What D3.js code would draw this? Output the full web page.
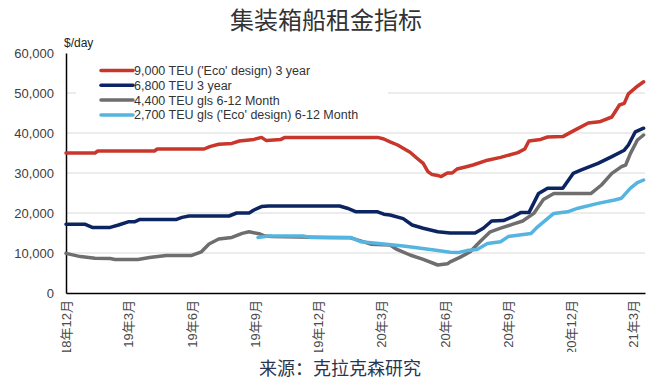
<!DOCTYPE html>
<html><head><meta charset="utf-8">
<script src="https://cdn.jsdelivr.net/npm/d3@7/dist/d3.min.js"></script>
<style>body{margin:0;background:#fff}svg{display:block}</style>
</head><body>
<script>
const title = "集装箱船租金指标";
const source = "来源：克拉克森研究";
const yLabel = "$/day";
const yTicks = [0, 10000, 20000, 30000, 40000, 50000, 60000];
const xTickDates = ["2018-12-01","2019-03-01","2019-06-01","2019-09-01","2019-12-01","2020-03-01","2020-06-01","2020-09-01","2020-12-01","2021-03-01"];
const xTickLabels = ["18年12月","19年3月","19年6月","19年9月","19年12月","20年3月","20年6月","20年9月","20年12月","21年3月"];
const seriesNames = ["9,000 TEU ('Eco' design) 3 year","6,800 TEU 3 year","4,400 TEU gls 6-12 Month","2,700 TEU gls ('Eco' design) 6-12 Month"];

const redDates = ["2018-12-01","2019-01-12","2019-01-16","2019-04-08","2019-04-12","2019-06-19","2019-06-27","2019-07-10","2019-07-29","2019-08-09","2019-08-30","2019-09-10","2019-09-17","2019-10-08","2019-10-14","2020-02-25","2020-03-05","2020-03-14","2020-03-25","2020-04-02","2020-04-12","2020-04-22","2020-05-01","2020-05-08","2020-05-14","2020-05-22","2020-05-27","2020-06-05","2020-06-12","2020-06-19","2020-07-01","2020-07-12","2020-08-02","2020-08-21","2020-09-15","2020-09-25","2020-10-01","2020-10-18","2020-10-28","2020-11-19","2020-12-05","2020-12-26","2021-01-11","2021-01-29","2021-02-09","2021-02-16","2021-02-22","2021-03-07","2021-03-16"];
const redValues = [35000,35000,35500,35500,36000,36000,36600,37200,37400,38000,38400,38900,38100,38400,38900,38900,38500,37800,37000,36200,35200,33700,32400,30300,29600,29400,29100,30000,30000,31000,31500,32000,33200,33900,35100,36000,38000,38400,39000,39100,40600,42500,42800,44000,47000,47400,49800,51700,52800];

const navyDates = ["2018-12-01","2018-12-28","2019-01-08","2019-02-03","2019-02-15","2019-03-01","2019-03-10","2019-03-18","2019-05-10","2019-05-18","2019-05-28","2019-07-25","2019-08-05","2019-08-23","2019-08-30","2019-09-10","2019-09-20","2020-01-01","2020-01-12","2020-01-25","2020-02-25","2020-03-05","2020-03-14","2020-04-02","2020-04-15","2020-05-01","2020-05-22","2020-06-09","2020-07-15","2020-07-27","2020-08-08","2020-08-25","2020-09-08","2020-09-19","2020-10-01","2020-10-15","2020-10-28","2020-11-19","2020-12-04","2020-12-15","2021-01-09","2021-01-29","2021-02-16","2021-02-22","2021-03-04","2021-03-16"];
const navyValues = [17200,17200,16400,16400,17000,17800,17800,18400,18400,18900,19250,19250,20000,20000,20750,21600,21750,21750,21200,20300,20300,19700,19500,18600,17000,16200,15300,15000,15000,16200,18000,18100,19100,20100,20100,24900,26200,26200,29900,30700,32400,34100,35700,37000,40300,41200];

const grayDates = ["2018-12-01","2018-12-22","2019-01-12","2019-02-03","2019-02-10","2019-03-15","2019-04-01","2019-04-25","2019-06-01","2019-06-15","2019-06-26","2019-07-10","2019-07-29","2019-08-13","2019-08-23","2019-09-08","2019-09-15","2019-09-25","2019-12-15","2020-01-17","2020-02-05","2020-02-15","2020-03-14","2020-03-24","2020-04-12","2020-05-01","2020-05-22","2020-06-05","2020-06-09","2020-06-23","2020-07-08","2020-07-22","2020-08-06","2020-08-21","2020-09-08","2020-09-22","2020-10-08","2020-10-22","2020-11-06","2020-12-30","2021-01-14","2021-01-29","2021-02-12","2021-02-18","2021-02-25","2021-03-07","2021-03-16"];
const grayValues = [9900,9100,8700,8600,8400,8400,8900,9400,9400,10300,12250,13500,13900,14900,15300,14750,14250,14100,13900,13800,12800,12200,12000,10900,9500,8400,7000,7300,7800,8900,10300,12800,15300,16200,17200,18000,19900,23400,24900,24900,27000,29900,31600,32000,34900,38250,39500];

const lightDates = ["2019-09-05","2019-09-20","2019-11-09","2019-11-20","2020-01-17","2020-02-01","2020-03-01","2020-04-02","2020-04-22","2020-05-22","2020-06-09","2020-06-20","2020-07-03","2020-07-18","2020-08-02","2020-08-21","2020-09-01","2020-10-04","2020-10-14","2020-11-06","2020-11-26","2020-12-11","2021-01-09","2021-02-02","2021-02-12","2021-02-25","2021-03-07","2021-03-16"];
const lightValues = [13900,14250,14250,13900,13900,12800,12300,11750,11300,10600,10200,10100,10600,10900,12400,12800,14100,14900,16600,19900,20300,21200,22400,23250,23700,26200,27600,28250];

const colors = ["#c9372c","#0c2461","#6e6e6e","#55b4e0"];

const W = 670, H = 380;
const m = {left: 66, right: 25, top: 53, bottom: 87};
const parse = d3.utcParse("%Y-%m-%d");
const svg = d3.select("body").append("svg").attr("width", W).attr("height", H);

const x = d3.scaleUtc().domain([parse("2018-12-01"), parse("2021-03-18")]).range([m.left, W - m.right]);
const y = d3.scaleLinear().domain([0, 60000]).range([H - m.bottom, m.top]);

// title
svg.append("text").attr("x", 326).attr("y", 29).attr("text-anchor", "middle")
  .attr("font-family", "'Noto Sans CJK SC', sans-serif").attr("font-size", 24).attr("fill", "#333").text(title);

// gridlines
svg.append("g").selectAll("line").data(yTicks.filter(d => d > 0 && d < 60000)).join("line")
  .attr("x1", m.left).attr("x2", W - m.right).attr("y1", d => y(d)).attr("y2", d => y(d))
  .attr("stroke", "#d9d9d9").attr("stroke-width", 1);

// y axis
const yAxis = svg.append("g").attr("transform", `translate(${m.left},0)`)
  .call(d3.axisLeft(y).tickValues(yTicks).tickFormat(d3.format(",")).tickSize(0).tickPadding(12));
yAxis.select(".domain").attr("stroke", "#000").attr("stroke-width", 1.5);
yAxis.selectAll("text").attr("font-family", "'Liberation Sans', Arial, sans-serif").attr("font-size", 13).attr("fill", "#404040");

svg.append("text").attr("x", 64).attr("y", 47).attr("font-family", "'Liberation Sans', Arial, sans-serif")
  .attr("font-size", 12).attr("fill", "#222").text(yLabel);

// x axis
const xAxis = svg.append("g").attr("transform", `translate(0,${H - m.bottom})`)
  .call(d3.axisBottom(x).tickValues(xTickDates.map(parse)).tickFormat((d, i) => xTickLabels[i]).tickSize(0));
xAxis.select(".domain").attr("stroke", "#000").attr("stroke-width", 1.5);
svg.append("clipPath").attr("id", "xclip").append("rect").attr("x", 0).attr("y", -5).attr("width", W).attr("height", 352 - (H - m.bottom) + 5);
xAxis.attr("clip-path", "url(#xclip)");
xAxis.selectAll("text")
  .attr("font-family", "'Liberation Sans', 'Noto Sans CJK SC', sans-serif").attr("font-size", 13).attr("fill", "#4a4a4a")
  .attr("text-anchor", "end").attr("dy", "0.35em").attr("x", -7).attr("y", 0)
  .attr("transform", "rotate(-90)");

// legend background
svg.append("rect").attr("x", 76).attr("y", 60).attr("width", 312).attr("height", 62).attr("fill", "#fff");

// lines
const line = d3.line().x(d => x(d[0])).y(d => y(d[1])).curve(d3.curveLinear);
const all = [[redDates, redValues],[navyDates, navyValues],[grayDates, grayValues],[lightDates, lightValues]];
const drawOrder = [0, 1, 2, 3];
drawOrder.forEach(i => {
  const [ds, vs] = all[i];
  const pts = ds.map((d, j) => [parse(d), vs[j]]);
  svg.append("path").datum(pts).attr("d", line).attr("fill", "none")
    .attr("stroke", colors[i]).attr("stroke-width", 3.5).attr("stroke-linejoin", "round").attr("stroke-linecap", "round");
});

// legend
const lg = svg.append("g");
seriesNames.forEach((n, i) => {
  const yy = 70.5 + i * 14.8;
  lg.append("line").attr("x1", 101).attr("x2", 133).attr("y1", yy).attr("y2", yy)
    .attr("stroke", colors[i]).attr("stroke-width", 3.5).attr("stroke-linecap", "round");
  lg.append("text").attr("x", 134).attr("y", yy).attr("dy", "0.36em")
    .attr("font-family", "'Liberation Sans', Arial, sans-serif").attr("font-size", 12.5).attr("fill", "#333").text(n);
});

// source
svg.append("text").attr("x", 340).attr("y", 375).attr("text-anchor", "middle")
  .attr("font-family", "'Noto Sans CJK SC', sans-serif").attr("font-size", 18).attr("fill", "#2a3550").text(source);
</script>
</body></html>
